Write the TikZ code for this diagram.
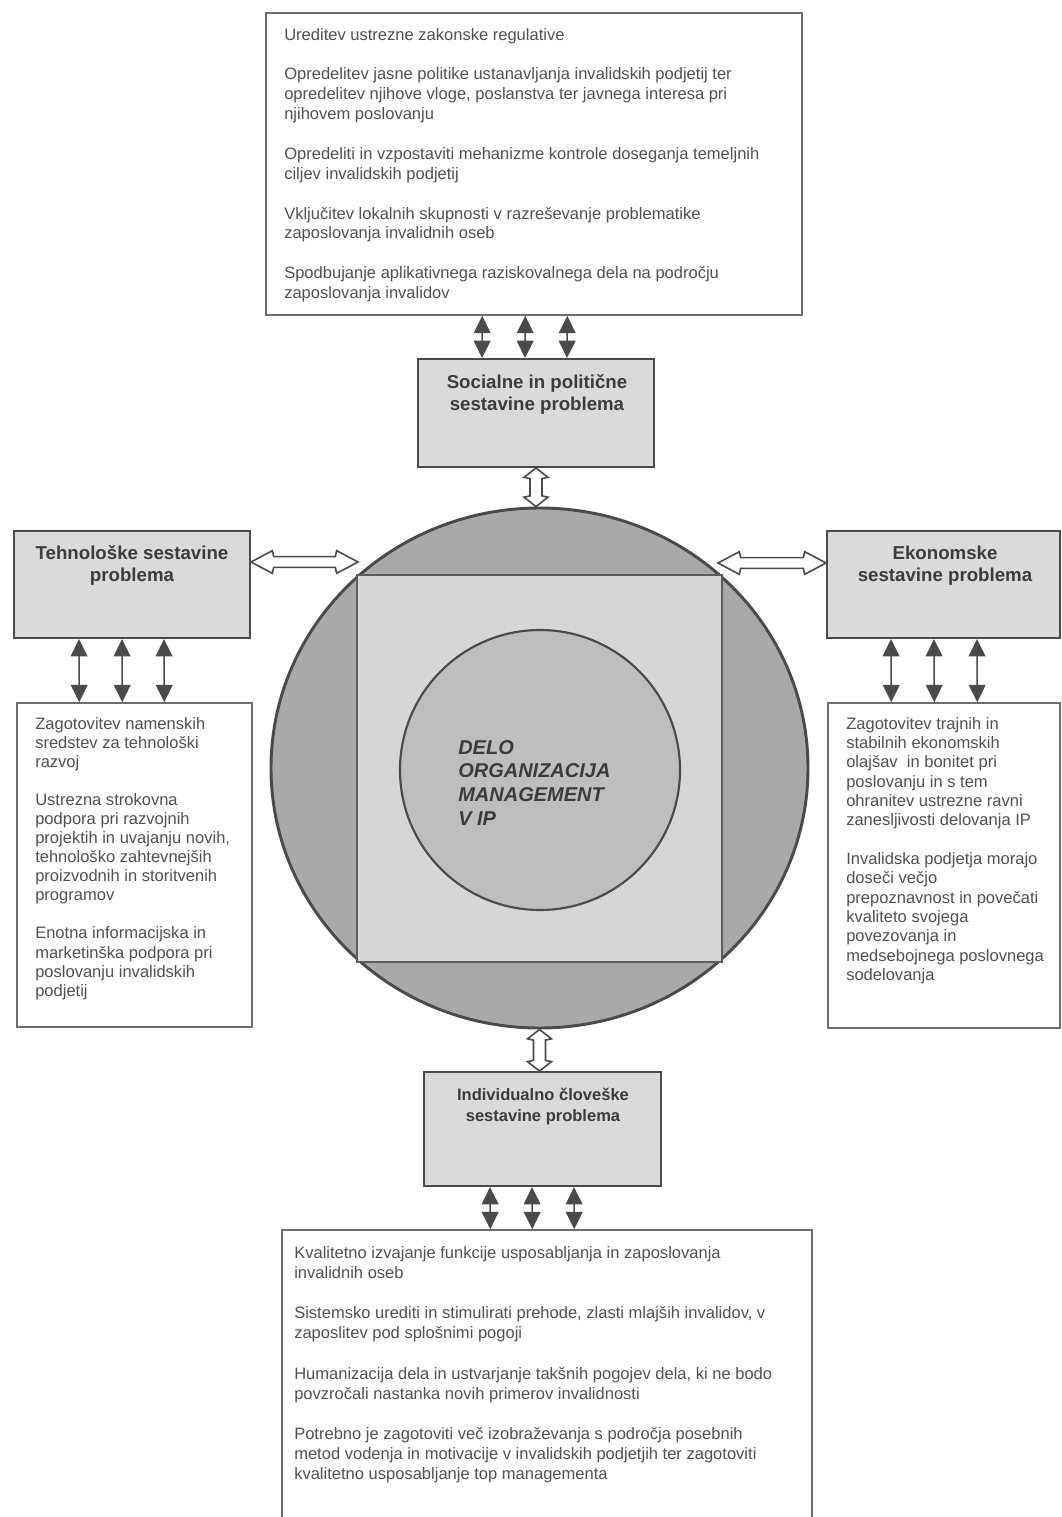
\documentclass[tikz,border=0pt]{standalone}
\usepackage{fontspec}
\setmainfont{Liberation Sans}
\usetikzlibrary{arrows.meta,calc,fit,shapes.geometric}
\definecolor{linec}{HTML}{4A4A4A}
\definecolor{tline}{HTML}{6E6E6E}
\definecolor{txt}{HTML}{505050}
\definecolor{htxt}{HTML}{3C3C3C}
\definecolor{hdfill}{HTML}{DADADA}
\definecolor{outerfill}{HTML}{A9A9A9}
\definecolor{sqfill}{HTML}{D6D6D6}
\definecolor{innerfill}{HTML}{BEBEBE}
\newcommand\hollowarrowH[2]{%
  \draw[hollow] let \p1=(#1), \p2=(#2) in
   (\x1,\y1) -- (\x1+16pt,\y1+8.5pt) -- (\x1+17pt,\y1+4pt) -- (\x2-17pt,\y1+4pt) -- (\x2-16pt,\y1+8.5pt) -- (\x2,\y1) -- (\x2-16pt,\y1-8.5pt) -- (\x2-17pt,\y1-4pt) -- (\x1+17pt,\y1-4pt) -- (\x1+16pt,\y1-8.5pt) -- cycle;}
\newcommand\hollowarrowV[2]{%
  \draw[hollow] let \p1=(#1), \p2=(#2) in
   (\x1,\y1) -- (\x1+9pt,\y1-7pt) -- (\x1+4.5pt,\y1-8pt) -- (\x1+4.5pt,\y2+8pt) -- (\x1+9pt,\y2+7pt) -- (\x1,\y2) -- (\x1-9pt,\y2+7pt) -- (\x1-4.5pt,\y2+8pt) -- (\x1-4.5pt,\y1-8pt) -- (\x1-9pt,\y1-7pt) -- cycle;}
\begin{document}
\begin{tikzpicture}[x=0.75pt,y=-0.75pt,
  hbox/.style={draw=linec, line width=1.5pt, fill=hdfill, inner sep=0pt},
  tbox/.style={draw=tline, line width=1.1pt, fill=white, inner sep=0pt},
  body/.style={anchor=north west, inner sep=0pt, align=left, text=txt, font=\fontsize{12.4}{#1}\selectfont},
  body/.default=14.8pt,
  head/.style={anchor=north, inner sep=0pt, align=center, text=htxt, font=\fontsize{14}{16.4}\selectfont\bfseries},
  link/.style={draw=linec, line width=1.2pt, {Triangle[length=13pt,width=12.5pt]}-{Triangle[length=13pt,width=12.5pt]}},
  hollow/.style={draw=linec, line width=1.2pt, fill=white, line join=miter}]
\useasboundingbox (0,0) rectangle (1061,1517);
\clip (0,0) rectangle (1061,1517);

% central figure
\node[ellipse, draw=linec, line width=2.2pt, fill=outerfill, minimum width=402.75pt, minimum height=390pt, inner sep=0pt] (outer) at (539.5,768) {};
\node[draw=linec!90, line width=1.5pt, fill=sqfill, inner sep=0pt, fit={(357,575) (722,962)}] (square) {};
\node[circle, draw=linec, line width=1.6pt, fill=innerfill, minimum size=210pt, inner sep=0pt] (inner) at (540,770) {};
\node[anchor=north west, inner sep=0pt, align=left, text=htxt, font=\fontsize{15}{17.8}\selectfont\bfseries\itshape] (core) at (458,740) {DELO\\ORGANIZACIJA\\MANAGEMENT\\V IP};

% top
\node[tbox, fit={(266,13) (802,315)}] (top) {};
\node[body=14.9pt] (toptxt) at (284,28) {Ureditev ustrezne zakonske regulative\\[14.9pt]
Opredelitev jasne politike ustanavljanja invalidskih podjetij ter\\
opredelitev njihove vloge, poslanstva ter javnega interesa pri\\
njihovem poslovanju\\[14.9pt]
Opredeliti in vzpostaviti mehanizme kontrole doseganja temeljnih\\
ciljev invalidskih podjetij\\[14.9pt]
Vključitev lokalnih skupnosti v razreševanje problematike\\
zaposlovanja invalidnih oseb\\[14.9pt]
Spodbujanje aplikativnega raziskovalnega dela na področju\\
zaposlovanja invalidov};
\node[hbox, fit={(418,359) (654,467)}] (soc) {};
\node[head] (soctxt) at (537,374.5) {Socialne in politične\\sestavine problema};

% left
\node[hbox, fit={(14,531) (250,638)}] (tech) {};
\node[head] (techtxt) at (132,545.5) {Tehnološke sestavine\\problema};
\node[tbox, fit={(17,703) (252,1027)}] (ltext) {};
\node[body=14.3pt] (ltxt) at (35,717) {Zagotovitev namenskih\\
sredstev za tehnološki\\
razvoj\\[14.3pt]
Ustrezna strokovna\\
podpora pri razvojnih\\
projektih in uvajanju novih,\\
tehnološko zahtevnejših\\
proizvodnih in storitvenih\\
programov\\[14.3pt]
Enotna informacijska in\\
marketinška podpora pri\\
poslovanju invalidskih\\
podjetij};

% right
\node[hbox, fit={(827,531) (1060,638)}] (econ) {};
\node[head] (econtxt) at (945,545.5) {Ekonomske\\sestavine problema};
\node[tbox, fit={(828,703) (1060,1028)}] (rtext) {};
\node[body=14.5pt] (rtxt) at (846,717) {Zagotovitev trajnih in\\
stabilnih ekonomskih\\
olajšav~ in bonitet pri\\
poslovanju in s tem\\
ohranitev ustrezne ravni\\
zanesljivosti delovanja IP\\[14.5pt]
Invalidska podjetja morajo\\
doseči večjo\\
prepoznavnost in povečati\\
kvaliteto svojega\\
povezovanja in\\
medsebojnega poslovnega\\
sodelovanja};

% bottom
\node[hbox, fit={(424,1072) (661,1186)}] (indiv) {};
\node[head, font=\fontsize{12.4}{15.8}\selectfont\bfseries] (indivtxt) at (543,1088) {Individualno človeške\\sestavine problema};
\node[tbox, fit={(282,1230) (812,1540)}] (bottom) {};
\node[body=15.1pt] (btxt) at (294,1246) {Kvalitetno izvajanje funkcije usposabljanja in zaposlovanja\\
invalidnih oseb\\[15.1pt]
Sistemsko urediti in stimulirati prehode, zlasti mlajših invalidov, v\\
zaposlitev pod splošnimi pogoji\\[15.1pt]
Humanizacija dela in ustvarjanje takšnih pogojev dela, ki ne bodo\\
povzročali nastanka novih primerov invalidnosti\\[15.1pt]
Potrebno je zagotoviti več izobraževanja s področja posebnih\\
metod vodenja in motivacije v invalidskih podjetjih ter zagotoviti\\
kvalitetno usposabljanje top managementa};

% small double arrows
\foreach \a/\b in {217/65, 260/108, 302/150}
  \draw[link] ($(top.south west)+(\a,0)$) -- ($(soc.north west)+(\b,0)$);
\foreach \a/\b in {66/63, 109/106, 151/148}
  \draw[link] ($(tech.south west)+(\a,0)$) -- ($(ltext.north west)+(\b,0)$);
\foreach \a/\b in {65/64, 108/107, 151/150}
  \draw[link] ($(econ.south west)+(\a,0)$) -- ($(rtext.north west)+(\b,0)$);
\foreach \a/\b in {67/209, 109/251, 151/293}
  \draw[link] ($(indiv.south west)+(\a,0)$) -- ($(bottom.north west)+(\b,0)$);

% hollow double arrows
\coordinate (hlA) at ($(tech.north east)+(0,32)$);
\coordinate (hlB) at (358,563);
\coordinate (hrA) at (718,563);
\coordinate (hrB) at ($(econ.north west)+(0,32)$);
\hollowarrowH{hlA}{hlB}
\hollowarrowH{hrA}{hrB}
\hollowarrowV{soc.south}{outer.north}
\hollowarrowV{outer.south}{indiv.north}
\end{tikzpicture}
\end{document}
